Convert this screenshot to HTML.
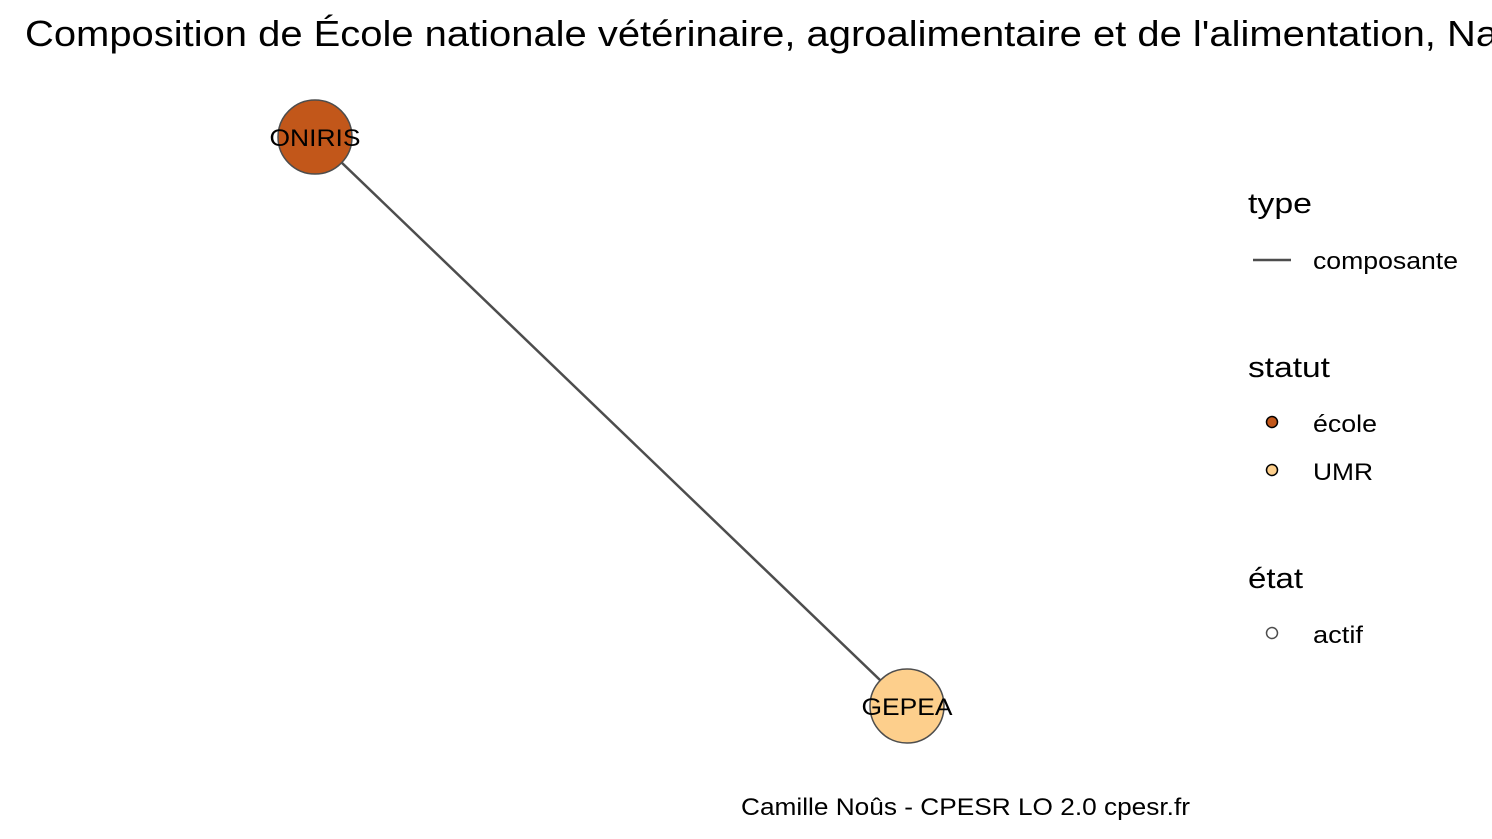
<!DOCTYPE html>
<html><head><meta charset="utf-8"><style>
body{margin:0;background:#fff}
svg{display:block;font-family:"Liberation Sans",sans-serif}
</style></head><body>
<svg id="chart" width="1492" height="839" viewBox="0 0 1492 839">
<rect width="1492" height="839" fill="#fff"/>
<text x="25" y="46" font-size="36" fill="#000" transform="translate(25,0) scale(1.11,1) translate(-25,0)">Composition de École nationale vétérinaire, agroalimentaire et de l'alimentation, Nantes-Atlantique</text>
<g id="edges"></g><g id="nodes"></g>
<g>
<text x="1248" y="213" font-size="29" textLength="64" lengthAdjust="spacingAndGlyphs">type</text>
<line x1="1253" y1="260" x2="1291" y2="260" stroke="#4d4d4d" stroke-width="2.5"/>
<text x="1313" y="269" font-size="24" textLength="145" lengthAdjust="spacingAndGlyphs">composante</text>
<text x="1248" y="377" font-size="29" textLength="82" lengthAdjust="spacingAndGlyphs">statut</text>
<circle cx="1272" cy="422" r="5.5" fill="#C2571A" stroke="#000" stroke-width="1.5"/>
<text x="1313" y="432" font-size="24" textLength="64" lengthAdjust="spacingAndGlyphs">école</text>
<circle cx="1272" cy="470" r="5.5" fill="#FDCF8C" stroke="#000" stroke-width="1.5"/>
<text x="1313" y="480" font-size="24" textLength="60" lengthAdjust="spacingAndGlyphs">UMR</text>
<text x="1248" y="588" font-size="29" textLength="55" lengthAdjust="spacingAndGlyphs">état</text>
<circle cx="1272" cy="633" r="5.5" fill="#fff" stroke="#4d4d4d" stroke-width="1.5"/>
<text x="1313" y="643" font-size="24" textLength="50" lengthAdjust="spacingAndGlyphs">actif</text>
</g>
<text x="741" y="815" font-size="24" textLength="449" lengthAdjust="spacingAndGlyphs">Camille Noûs - CPESR LO 2.0 cpesr.fr</text>
</svg>
<script>
const nodeNames = ["ONIRIS", "GEPEA"];
const nodeX = [0, 1];
const nodeY = [1, 0];
const nodeColors = ["#C2571A", "#FDCF8C"];
const edgeFrom = [0];
const edgeTo = [1];
const sx = v => 315 + v * (907 - 315);
const sy = v => 706 - v * (706 - 137);
const NS = "http://www.w3.org/2000/svg";
const eg = document.getElementById("edges"), ng = document.getElementById("nodes");
edgeFrom.forEach((f, i) => {
  const l = document.createElementNS(NS, "line");
  l.setAttribute("x1", sx(nodeX[f])); l.setAttribute("y1", sy(nodeY[f]));
  l.setAttribute("x2", sx(nodeX[edgeTo[i]])); l.setAttribute("y2", sy(nodeY[edgeTo[i]]));
  l.setAttribute("stroke", "#4d4d4d"); l.setAttribute("stroke-width", "2.5");
  
  
  eg.appendChild(l);
});
nodeNames.forEach((n, i) => {
  const c = document.createElementNS(NS, "circle");
  c.setAttribute("cx", sx(nodeX[i])); c.setAttribute("cy", sy(nodeY[i])); c.setAttribute("r", 37);
  c.setAttribute("fill", nodeColors[i]); c.setAttribute("stroke", "#4d4d4d"); c.setAttribute("stroke-width", "1.5");
  
  
  ng.appendChild(c);
  const t = document.createElementNS(NS, "text");
  t.setAttribute("x", sx(nodeX[i])); t.setAttribute("y", sy(nodeY[i]) + 9);
  t.setAttribute("text-anchor", "middle"); t.setAttribute("font-size", "24");
  t.setAttribute("textLength", "91"); t.setAttribute("lengthAdjust", "spacingAndGlyphs");
  t.textContent = n;
  
  
  ng.appendChild(t);
});
</script>
</body></html>
